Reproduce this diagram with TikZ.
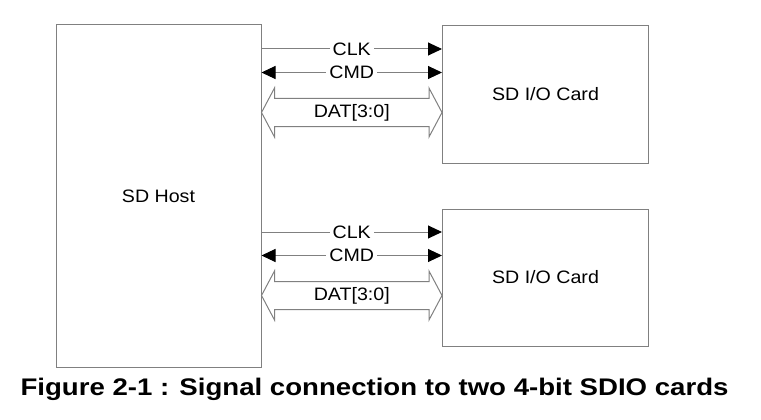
\documentclass[tikz,border=0pt]{standalone}
\usepackage{fontspec}
\setmainfont{Liberation Sans}[FakeStretch=1.09]
\newfontfamily\captionfont{Liberation Sans}[FakeStretch=1.15]
\usetikzlibrary{arrows.meta}
\usetikzlibrary{calc}
\definecolor{linegray}{RGB}{128,128,128}
\tikzset{
  box/.style={draw=linegray, line width=1pt, inner sep=0pt, font=\fontsize{18}{20}\selectfont},
  sig/.style={draw=linegray, line width=1pt},
  lbl/.style={fill=white, inner xsep=3pt, inner ysep=1pt, font=\fontsize{18}{20}\selectfont},
  >={Triangle[length=14pt, width=13pt, color=black]}
}

\begin{document}
\begin{tikzpicture}[x=1pt,y=-1pt]
        \useasboundingbox (0,0) rectangle (761,420);
        \node[box, minimum width=205, minimum height=342] (host) at (158.5,196) {SD Host};
        \node[box, minimum width=206, minimum height=137] (card1) at (545.5,94.5) {SD I/O Card};
        \node[box, minimum width=206, minimum height=137] (card2) at (545.5,277.5) {SD I/O Card};

        \foreach \c in {card1,card2} {
            \coordinate (clk) at ($(\c.north west)+(0,23.5)$);
            \coordinate (cmd) at ($(\c.north west)+(0,47)$);
            \coordinate (dat) at ($(\c.north west)+(0,87)$);
            \draw[sig,->] (host.east |- clk) -- node[lbl] (\c-clk) {CLK} (clk);
            \draw[sig,<->] (host.east |- cmd) -- node[lbl] (\c-cmd) {CMD} (cmd);
            \draw[sig] (host.east |- dat) -- ++(13,-24.5) -- ++(0,10.5) -- ($(dat)+(-13,-14)$) -- ++(0,-10.5) -- (dat)
                -- ++(-13,24.5) -- ++(0,-10.5) -- ($(host.east |- dat)+(13,14)$) -- ++(0,10.5) -- cycle;
            \node[lbl, fill=none] (\c-dat) at ($(host.east |- dat)!0.5!(dat)$) {DAT[3:0]};
        }

        \node[font=\captionfont\bfseries\fontsize{24}{28}\selectfont, anchor=base] (caption) at (374.5,395) {Figure 2-1 : Signal connection to two 4-bit SDIO cards};
\end{tikzpicture}
\end{document}
